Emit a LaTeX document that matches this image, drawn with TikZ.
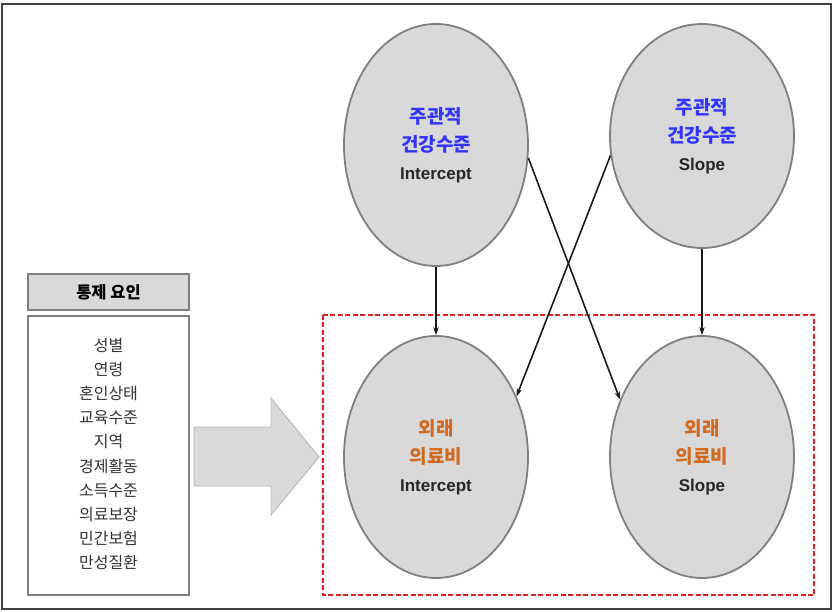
\documentclass[tikz,border=0pt]{standalone}
\usepackage{fontspec}
\setmainfont{Liberation Sans}
\newfontfamily\kr{Noto Sans CJK KR}
\usetikzlibrary{shapes.geometric,arrows.meta}
\definecolor{ellfill}{HTML}{D9D9D9}
\definecolor{ellline}{HTML}{7F7F7F}
\definecolor{kblue}{HTML}{3333FF}
\definecolor{korange}{HTML}{D2691E}
\definecolor{dred}{HTML}{E02020}
\tikzset{
  latent/.style={ellipse, draw=ellline, fill=ellfill, line width=1.8pt, inner sep=0pt,
    minimum width=184pt, align=center, font=\fontsize{19}{28}\selectfont\bfseries},
  link/.style={-{Stealth[length=8pt,width=5.5pt]}, line width=1.6pt, black!90},
  boxline/.style={draw=ellline, line width=2.2pt},
}
\newcommand{\kb}[1]{{\kr\bfseries #1}}
\begin{document}
\begin{tikzpicture}[x=1pt,y=-1pt]
\useasboundingbox (0,0) rectangle (833,612);
\draw[line width=1.4pt, black!75] (2,4) rectangle (831,609);

% control box
\node[boxline, fill=ellfill, minimum width=161pt, minimum height=36pt, inner sep=0pt,
  font=\fontsize{16.5}{18}\selectfont] (hdr) at (108.5,292) {\kb{통제 요인}};
\node[boxline, fill=white, minimum width=161pt, minimum height=279pt, inner sep=0pt] (ctl) at (108.5,455.5) {};
\node[align=center, font=\kr\fontsize{16}{24.2}\selectfont, text=black!80, inner sep=0pt] (list) at (108.5,454)
  {성별\\연령\\혼인상태\\교육수준\\지역\\경제활동\\소득수준\\의료보장\\민간보험\\만성질환};

% big arrow
\draw[draw=black!30, fill=ellfill, line width=0.8pt] (194,427) -- (271,427) -- (271,398) -- (319,457)
  -- (271,515) -- (271,486) -- (194,486) -- cycle;

% red dashed frame
\draw[dred, line width=2.3pt, dash pattern=on 5pt off 2.5pt] (323,315) rectangle (814,595);

% ellipses
\node[latent, minimum height=242pt] (TL) at (436,145)
  {\textcolor{kblue}{\kb{주관적}}\\\textcolor{kblue}{\kb{건강수준}}\\\fontsize{17}{28}\selectfont\textcolor{black!85}{Intercept}};
\node[latent, minimum height=224pt] (TR) at (702,136)
  {\textcolor{kblue}{\kb{주관적}}\\\textcolor{kblue}{\kb{건강수준}}\\\fontsize{17}{28}\selectfont\textcolor{black!85}{Slope}};
\node[latent, minimum height=242pt] (BL) at (436,457)
  {\textcolor{korange}{\kb{외래}}\\\textcolor{korange}{\kb{의료비}}\\\fontsize{17}{28}\selectfont\textcolor{black!85}{Intercept}};
\node[latent, minimum height=242pt] (BR) at (702,457)
  {\textcolor{korange}{\kb{외래}}\\\textcolor{korange}{\kb{의료비}}\\\fontsize{17}{28}\selectfont\textcolor{black!85}{Slope}};

% connectors
\draw[link] (TL.south) -- (BL.north);
\draw[link] (TR.south) -- (BR.north);
\draw[link] (TL.-8) -- (BR.145);
\draw[link] (TR.-168) -- (BL.37);
\end{tikzpicture}
\end{document}
